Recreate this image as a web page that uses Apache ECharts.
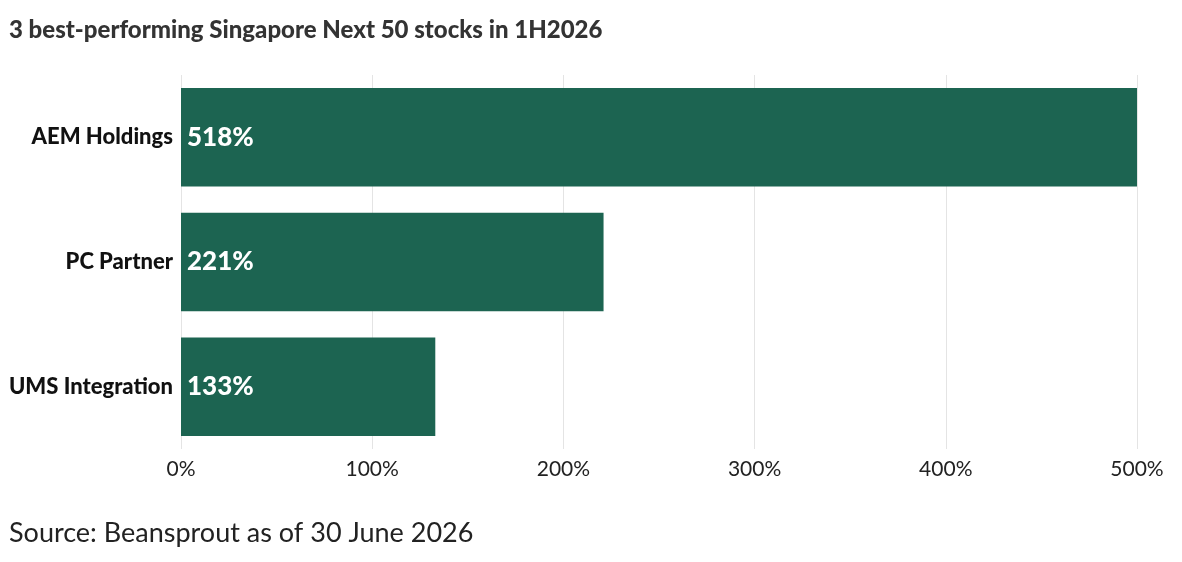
<!DOCTYPE html>
<html><head><meta charset="utf-8">
<script src="https://cdn.jsdelivr.net/npm/echarts@6/dist/echarts.min.js"></script>
<style>html,body{margin:0;padding:0;background:#fff}#c{width:1182px;height:562px}</style>
</head><body><div id="c"></div>
<script>
const categories = ['AEM Holdings', 'PC Partner', 'UMS Integration'];
const values = [518, 221, 133];
const tickMax = 500;
const titleText = '3 best-performing Singapore Next 50 stocks in 1H2026';
const sourceText = 'Source: Beansprout as of 30 June 2026';

const FONT = 'Lato, "Noto Sans", sans-serif';
const chart = echarts.init(document.getElementById('c'));
chart.setOption({
  animation: false,
  textStyle: { fontFamily: FONT },
  title: [
    { text: titleText, left: 4, top: 13, textStyle: { fontFamily: FONT, fontSize: 24, fontWeight: 900, color: '#333' } },
    { text: sourceText, left: 4, top: 515, textStyle: { fontFamily: FONT, fontSize: 27, fontWeight: 'normal', color: '#222' } }
  ],
  grid: { left: 181, right: 45, top: 75, bottom: 113, containLabel: false },
  xAxis: {
    type: 'value', min: 0, max: tickMax, interval: 100,
    axisLine: { show: false }, axisTick: { show: false },
    splitLine: { lineStyle: { color: '#e4e4e4', width: 1 } },
    axisLabel: { formatter: '{value}%', fontSize: 21, color: '#222', margin: 10, fontFamily: FONT }
  },
  yAxis: {
    type: 'category', data: categories, inverse: true,
    axisLine: { show: false }, axisTick: { show: false },
    axisLabel: { fontSize: 22, fontWeight: 900, color: '#111', margin: 8, fontFamily: FONT }
  },
  series: [{
    type: 'bar', data: values, barCategoryGap: '21%',
    itemStyle: { color: '#1c6451' },
    label: { show: true, position: 'insideLeft', distance: 6, formatter: '{c}%', color: '#fff', fontSize: 26, fontWeight: 900, fontFamily: FONT }
  }]
});
</script></body></html>
